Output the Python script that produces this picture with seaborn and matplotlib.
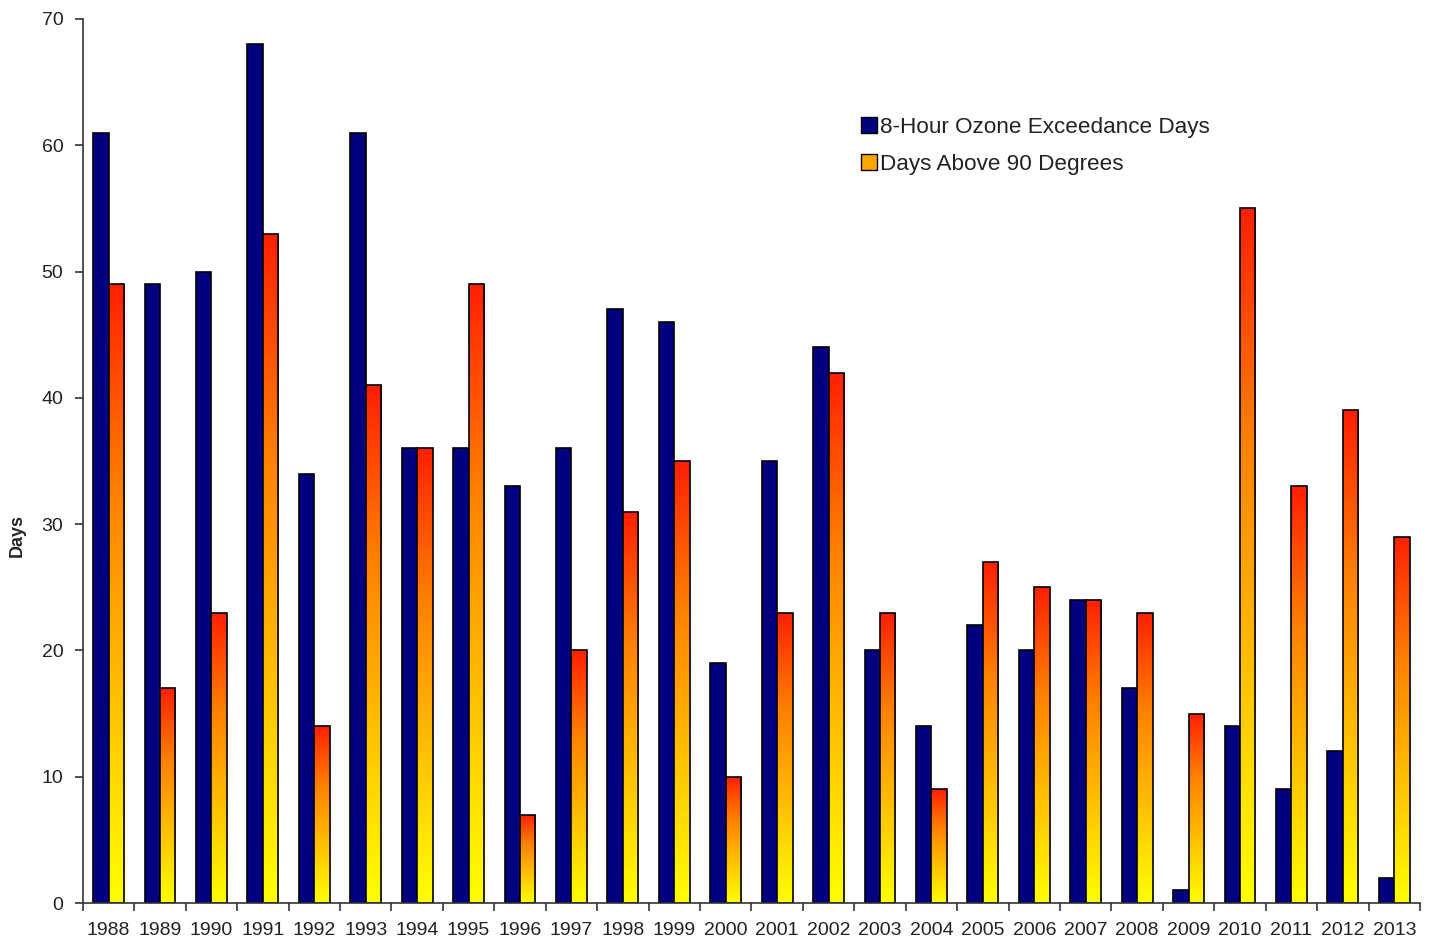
import matplotlib.pyplot as plt
import matplotlib.patches as mpatches
from matplotlib.colors import LinearSegmentedColormap
import seaborn as sns
import pandas as pd
import numpy as np

years = ['1988', '1989', '1990', '1991', '1992', '1993', '1994', '1995', '1996',
         '1997', '1998', '1999', '2000', '2001', '2002', '2003', '2004', '2005',
         '2006', '2007', '2008', '2009', '2010', '2011', '2012', '2013']
ozone_days = [61, 49, 50, 68, 34, 61, 36, 36, 33, 36, 47, 46, 19, 35, 44, 20,
              14, 22, 20, 24, 17, 1, 14, 9, 12, 2]
hot_days = [49, 17, 23, 53, 14, 41, 36, 49, 7, 20, 31, 35, 10, 23, 42, 23,
            9, 27, 25, 24, 23, 15, 55, 33, 39, 29]
series_names = ['8-Hour Ozone Exceedance Days', 'Days Above 90 Degrees']

df = pd.DataFrame({
    'Year': years * 2,
    'Days': ozone_days + hot_days,
    'Series': [series_names[0]] * len(years) + [series_names[1]] * len(years),
})

sns.set_style('white')
plt.rcParams['font.family'] = ['Liberation Sans', 'DejaVu Sans']

fig = plt.figure(figsize=(14.29, 9.39), dpi=100)
ax = fig.add_axes([0.058, 0.0383, 0.9357, 0.9415])

sns.barplot(data=df, x='Year', y='Days', hue='Series',
            palette=['#000080', '#FFA500'], saturation=1, width=0.6,
            edgecolor='black', linewidth=1.2, legend=False, ax=ax)

# red-to-yellow gradient fill for the temperature bars
grad = LinearSegmentedColormap.from_list(
    'heat', ['#FFFF00', '#FFC000', '#FF8000', '#FF2000'])
g = np.linspace(0, 1, 256).reshape(-1, 1)
for bar in ax.containers[1]:
    x, w, h = bar.get_x(), bar.get_width(), bar.get_height()
    im = ax.imshow(g, cmap=grad, aspect='auto', origin='lower',
                   extent=[x, x + w, 0, h], zorder=bar.get_zorder())
    im.set_clip_path(bar)
    bar.set_facecolor('none')
    bar.set_zorder(bar.get_zorder() + 0.1)

ax.set_xlim(-0.5, len(years) - 0.5)
ax.set_ylim(0, 70)
ax.set_yticks(range(0, 71, 10))
ax.set_xlabel('')
ax.set_ylabel('Days', fontsize=13, fontweight='bold')
ax.yaxis.set_label_coords(-0.043, 0.416)

ax.set_xticks(range(len(years)))
ax.set_xticklabels(years)
ax.set_xticks(np.arange(-0.5, len(years), 1), minor=True)
ax.tick_params(axis='x', which='major', length=0, labelsize=14,
               colors='#222222', pad=14)
ax.tick_params(axis='x', which='minor', length=6, width=1.2, color='#333333',
               direction='out', bottom=True)
ax.tick_params(axis='y', length=6, width=1.2, color='#333333', direction='out',
               left=True, labelsize=14, labelcolor='#222222', pad=8)

sns.despine(ax=ax)
for s in ['left', 'bottom']:
    ax.spines[s].set_color('#333333')
    ax.spines[s].set_linewidth(1.2)

handles = [mpatches.Patch(facecolor='#000080', edgecolor='black', lw=1),
           mpatches.Patch(facecolor='#FFA500', edgecolor='black', lw=1)]
ax.legend(handles, series_names, loc='upper left',
          bbox_to_anchor=(0.567, 0.912), frameon=False, fontsize=16.2,
          handlelength=0.7, handleheight=0.7, handletextpad=0.15,
          labelspacing=0.72, labelcolor='#222222')

fig.savefig('out.png', dpi=100)
